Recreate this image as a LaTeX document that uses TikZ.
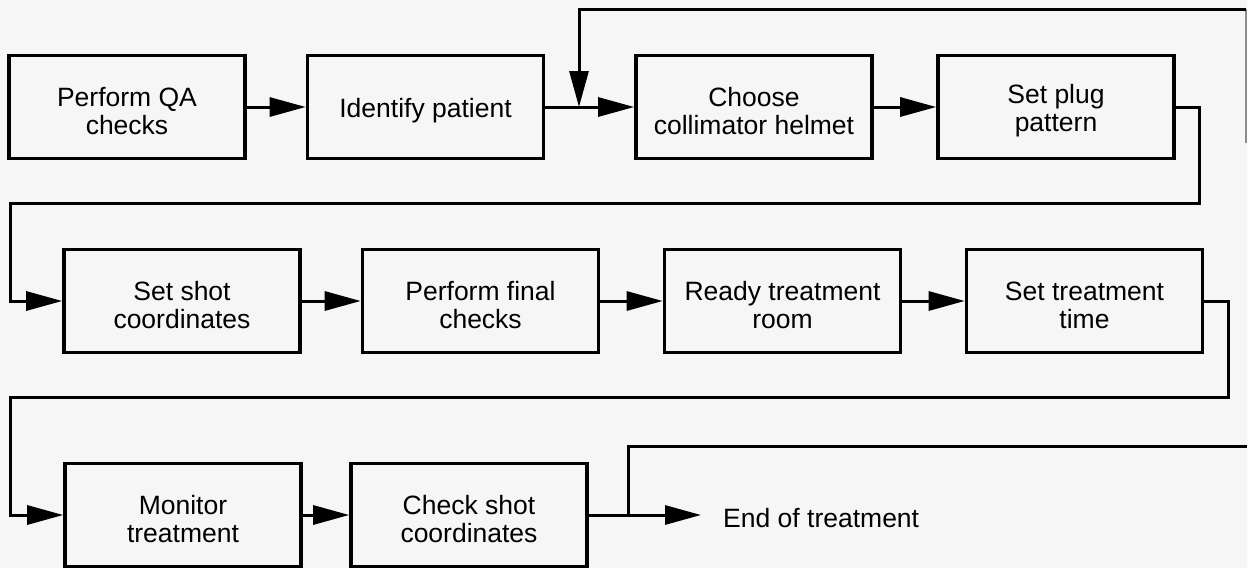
\documentclass[tikz,border=0pt]{standalone}
\usepackage{fontspec}
\setmainfont{Liberation Sans}
\usetikzlibrary{arrows.meta}
\definecolor{paper}{RGB}{246,246,246}
\tikzset{
  boxtext/.style={align=center, inner sep=0pt, yshift=-4pt,
    font=\fontsize{26.5}{28}\selectfont},
  stepbox/.style={draw, line width=3.6pt, minimum width=236pt,
    minimum height=103pt, inner sep=0pt, label={[boxtext]center:#1}},
  flow/.style={line width=3pt, -{Triangle[length=36pt,width=19pt]}},
  wire/.style={line width=3pt},
}
\begin{document}
\begin{tikzpicture}[x=1pt,y=-1pt]
% page and paper tone
\fill[paper] (0,0) rectangle (1247,568);
\useasboundingbox (0,0) rectangle (1247,568);

% first row
\node[stepbox={Perform QA\\checks}]            (qa)     at (127,107)  {};
\node[stepbox={Identify patient}]               (ident)  at (425.5,107) {};
\node[stepbox={Choose\\collimator helmet}]      (helmet) at (754,107)  {};
\node[stepbox={Set plug\\pattern}]              (plug)   at (1056,107) {};

% second row
\node[stepbox={Set shot\\coordinates}]          (shot)   at (182,301)  {};
\node[stepbox={Perform final\\checks}]          (final)  at (480.5,301) {};
\node[stepbox={Ready treatment\\room}]          (room)   at (782.5,301) {};
\node[stepbox={Set treatment\\time}]            (ttime)  at (1084.5,301) {};

% third row
\node[stepbox={Monitor\\treatment}]             (monitor) at (183,515) {};
\node[stepbox={Check shot\\coordinates}]        (check)   at (469,515) {};
\node[anchor=base west, inner sep=0pt, font=\fontsize{26.5}{28}\selectfont]
  (done) at (723,527) {End of treatment};

% junction points and routing corners
\coordinate (j1)   at (579,107);
\coordinate (edge) at (1246,143);
\coordinate (tr)   at (1246,9);
\coordinate (tl)   at (579,9);
\coordinate (r1)   at (1199,203);
\coordinate (l1)   at (10,203);
\coordinate (r2)   at (1228,397);
\coordinate (l2)   at (10,397);
\coordinate (j3)   at (628,515);
\coordinate (j3up) at (628,446);
\coordinate (r3)   at (1247,446);
\coordinate (tip)  at (701,515);

% row one
\draw[flow] (qa) -- (ident);
\draw[wire] (ident.east) -- (j1);
\draw[flow] (j1) -- (helmet.west);
\draw[flow] (helmet) -- (plug);
\draw[line width=1.2pt, black!45] (edge) -- (tr);
\draw[flow] (tr) -- (tl) -- (j1);

% row one to row two
\draw[flow] (plug.east) -| (r1) -- (l1) |- (shot.west);
\draw[flow] (shot) -- (final);
\draw[flow] (final) -- (room);
\draw[flow] (room) -- (ttime);

% row two to row three
\draw[flow] (ttime.east) -| (r2) -- (l2) |- (monitor.west);
\draw[flow] (monitor) -- (check);
\draw[flow] (check.east) -- (tip);
\draw[wire] (j3) -- (j3up) -- (r3);
\end{tikzpicture}
\end{document}
